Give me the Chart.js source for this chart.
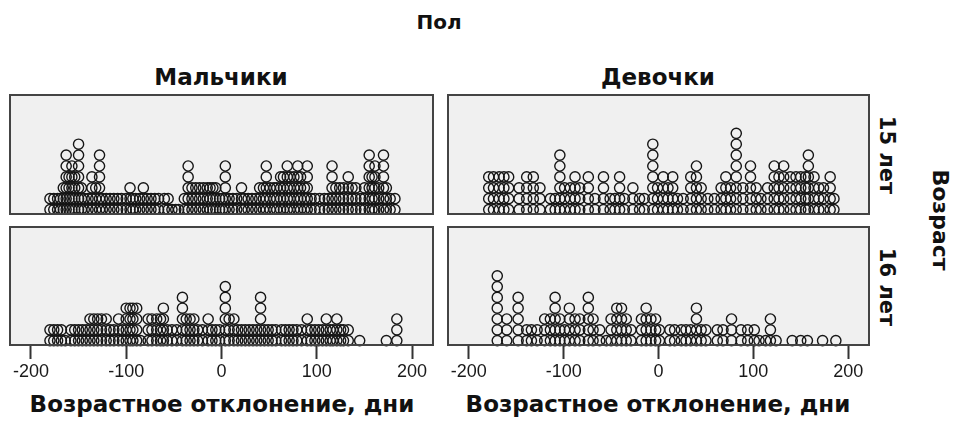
<!DOCTYPE html>
<html lang="ru">
<head>
<meta charset="utf-8">
<title>Возрастное отклонение по полу и возрасту</title>
<script src="https://cdn.jsdelivr.net/npm/chart.js@4/dist/chart.umd.min.js"></script>
<style>
  html, body { margin: 0; padding: 0; background: #fff; }
  #wrap { position: relative; width: 960px; height: 424px; overflow: hidden; font-family: "DejaVu Sans", sans-serif; color: #111; }
  canvas { position: absolute; }
  .lbl { position: absolute; white-space: nowrap; font-weight: bold; transform: translate(-50%, -50%); line-height: 1; }
  .rot { transform: translate(-50%, -50%) rotate(90deg); }
</style>
</head>
<body>
<div id="wrap">
  <div class="lbl" style="left:439px; top:22px; font-size:20px;">Пол</div>
  <div class="lbl" style="left:221px; top:77px; font-size:23px;">Мальчики</div>
  <div class="lbl" style="left:658px; top:77px; font-size:23px;">Девочки</div>
  <div class="lbl rot" style="left:886px; top:155px; font-size:21px;">15 лет</div>
  <div class="lbl rot" style="left:886px; top:287px; font-size:21px;">16 лет</div>
  <div class="lbl rot" style="left:940px; top:220px; font-size:22px;">Возраст</div>
  <div class="lbl" style="left:222px; top:404px; font-size:23px;">Возрастное отклонение, дни</div>
  <div class="lbl" style="left:658px; top:404px; font-size:23px;">Возрастное отклонение, дни</div>

  <canvas id="boys15" width="425" height="121" style="left:9px; top:94px;"></canvas>
  <canvas id="girls15" width="423" height="121" style="left:447px; top:94px;"></canvas>
  <canvas id="boys16" width="425" height="161" style="left:9px; top:226px;"></canvas>
  <canvas id="girls16" width="423" height="161" style="left:447px; top:226px;"></canvas>
</div>
<script>
// Age deviation in days: each column is a value, the count is how many cases share it.
const dayTicks = [-200, -100, 0, 100, 200];

const boys15Days = [-180, -176, -172, -169, -166, -163, -160, -157, -154, -150, -147, -144, -140, -136, -132, -128, -125, -121, -117, -113, -109, -105, -100, -96, -93, -90, -86, -82, -78, -74, -70, -66, -60, -56, -52, -48, -45, -39, -35, -31, -27, -23, -19, -15, -12, -9, -6, -2, 1, 4, 8, 12, 16, 21, 24, 28, 32, 36, 40, 44, 47, 51, 55, 58, 62, 65, 69, 72, 76, 80, 83, 87, 90, 94, 98, 103, 108, 112, 116, 120, 124, 128, 133, 137, 141, 146, 150, 155, 158, 161, 165, 170, 173, 177, 182];
const boys15Counts = [2, 2, 2, 2, 3, 6, 4, 5, 4, 7, 3, 2, 2, 4, 3, 6, 2, 2, 2, 2, 2, 2, 2, 3, 2, 2, 2, 3, 2, 2, 2, 2, 2, 2, 1, 1, 1, 2, 5, 3, 3, 3, 3, 3, 3, 3, 3, 2, 2, 5, 2, 2, 2, 3, 2, 2, 2, 2, 3, 3, 5, 3, 3, 3, 4, 4, 5, 4, 4, 5, 4, 3, 5, 2, 2, 2, 2, 2, 5, 3, 3, 3, 4, 3, 3, 2, 3, 6, 4, 5, 3, 6, 3, 2, 2];

const girls15Days = [-179, -174, -168, -163, -158, -147, -139, -132, -125, -114, -109, -104, -99, -93, -88, -83, -74, -67, -58, -51, -46, -41, -36, -27, -20, -15, -6, -1, 5, 10, 15, 20, 26, 34, 40, 45, 52, 59, 66, 71, 76, 82, 89, 97, 103, 108, 115, 122, 127, 132, 139, 145, 150, 155, 158, 164, 169, 174, 181, 185];
const girls15Counts = [4, 4, 4, 4, 4, 3, 4, 4, 3, 2, 2, 6, 3, 3, 4, 3, 4, 2, 4, 2, 2, 4, 2, 3, 2, 2, 7, 3, 4, 3, 4, 2, 2, 4, 5, 3, 2, 2, 3, 4, 3, 8, 3, 5, 3, 2, 3, 5, 4, 5, 4, 4, 4, 4, 6, 4, 3, 3, 4, 2];

const boys16Days = [-180, -176, -172, -168, -164, -158, -154, -150, -146, -142, -138, -134, -130, -126, -121, -117, -113, -108, -104, -100, -96, -93, -89, -85, -77, -73, -68, -64, -61, -57, -52, -47, -41, -37, -33, -29, -25, -20, -14, -10, -6, -2, 4, 8, 13, 17, 21, 25, 29, 33, 37, 41, 45, 49, 53, 57, 63, 67, 71, 75, 79, 84, 90, 94, 98, 102, 106, 110, 114, 117, 121, 125, 128, 133, 145, 173, 184];
const boys16Counts = [2, 2, 2, 2, 1, 2, 2, 2, 2, 2, 3, 3, 3, 3, 3, 2, 2, 3, 2, 4, 4, 4, 4, 1, 3, 3, 3, 3, 4, 2, 2, 2, 5, 3, 3, 3, 2, 2, 3, 2, 2, 2, 6, 3, 3, 2, 2, 2, 2, 2, 2, 5, 2, 2, 2, 2, 2, 2, 2, 2, 2, 2, 3, 2, 2, 2, 2, 3, 2, 2, 3, 2, 2, 2, 1, 1, 3];

const girls16Days = [-170, -160, -148, -139, -134, -128, -120, -114, -109, -104, -99, -94, -88, -83, -74, -69, -62, -55, -50, -44, -39, -34, -29, -18, -13, -8, -3, 1, 12, 17, 24, 29, 34, 40, 45, 50, 62, 68, 77, 87, 94, 101, 106, 113, 118, 124, 141, 150, 157, 173, 187];
const girls16Counts = [7, 3, 5, 2, 2, 2, 3, 3, 5, 3, 2, 4, 3, 3, 5, 3, 2, 1, 3, 4, 4, 3, 2, 3, 4, 3, 3, 2, 2, 2, 2, 2, 2, 4, 2, 2, 2, 2, 3, 2, 2, 2, 1, 1, 3, 1, 1, 1, 1, 1, 1];

const X_MIN = -223, X_MAX = 223;
const DOT_PITCH = 10.8;   // vertical spacing of stacked dots, px
const PANEL_H = 120;      // inner height of every panel, px
const AXIS_H = 41;        // room under the bottom panels for ticks and labels

// Turn (value, count) columns into stacked dot positions.
function stackDots(days, counts) {
  const pts = [];
  days.forEach((d, i) => {
    for (let k = 0; k < counts[i]; k++) pts.push({ x: d, y: k + 0.5 });
  });
  return pts;
}

// Grey panel background and dark frame around the plotting area.
const panelFrame = {
  id: 'panelFrame',
  beforeDatasetsDraw(chart) {
    const { ctx, chartArea: a } = chart;
    ctx.save();
    ctx.fillStyle = '#f0f0f0';
    ctx.fillRect(a.left, a.top, a.right - a.left, a.bottom - a.top);
    ctx.restore();
  },
  afterDatasetsDraw(chart) {
    const { ctx, chartArea: a } = chart;
    ctx.save();
    ctx.strokeStyle = '#444';
    ctx.lineWidth = 2;
    ctx.strokeRect(a.left + 1, a.top + 1, a.right - a.left - 2, a.bottom - a.top - 2);
    ctx.restore();
  }
};

function makePanel(id, days, counts, showAxis) {
  const ctx = document.getElementById(id);
  const xScale = {
    type: 'linear',
    min: X_MIN,
    max: X_MAX,
    display: showAxis,
    afterBuildTicks: s => { s.ticks = dayTicks.map(v => ({ value: v })); },
    grid: { drawOnChartArea: false, drawTicks: true, tickLength: 13, tickWidth: 2, tickColor: '#333' },
    border: { display: false },
    ticks: {
      font: { family: 'Liberation Sans, Arial, sans-serif', size: 18 },
      color: '#1a1a1a',
      padding: 2,
      maxRotation: 0,
      autoSkip: false
    }
  };
  if (showAxis) xScale.afterFit = s => { s.height = AXIS_H; };

  return new Chart(ctx, {
    type: 'scatter',
    data: {
      datasets: [{
        data: stackDots(days, counts),
        pointStyle: 'circle',
        pointRadius: 5.1,
        pointBorderWidth: 1.4,
        pointBorderColor: '#161616',
        pointBackgroundColor: 'rgba(0,0,0,0)',
        pointHoverRadius: 5.1,
        clip: false
      }]
    },
    options: {
      responsive: false,
      animation: false,
      events: [],
      layout: { padding: 0, autoPadding: false },
      plugins: { legend: { display: false }, tooltip: { enabled: false } },
      scales: {
        x: xScale,
        y: {
          type: 'linear',
          display: false,
          min: 0,
          max: PANEL_H / DOT_PITCH
        }
      }
    },
    plugins: [panelFrame]
  });
}

makePanel('boys15', boys15Days, boys15Counts, false);
makePanel('girls15', girls15Days, girls15Counts, false);
makePanel('boys16', boys16Days, boys16Counts, true);
makePanel('girls16', girls16Days, girls16Counts, true);
</script>
</body>
</html>
